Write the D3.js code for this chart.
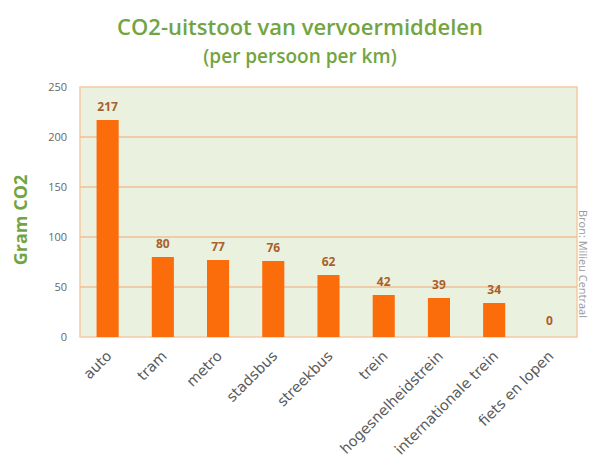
<!DOCTYPE html>
<html>
<head>
<meta charset="utf-8">
<script src="https://cdn.jsdelivr.net/npm/d3@7"></script>
<style>
  body { margin: 0; background: #fff; }
  text { font-family: "Open Sans", "DejaVu Sans", sans-serif; }
</style>
</head>
<body>
<div id="chart"></div>
<script>
const categories = ["auto", "tram", "metro", "stadsbus", "streekbus", "trein",
  "hogesnelheidstrein", "internationale trein", "fiets en lopen"];
const values = [217, 80, 77, 76, 62, 42, 39, 34, 0];
const yTicks = [0, 50, 100, 150, 200, 250];

const width = 590;
const height = 461;
const margin = { top: 87, left: 80, bottom: 124, right: 13 };
const iwidth = width - margin.left - margin.right;
const iheight = height - margin.top - margin.bottom;

const svg = d3.select("#chart").append("svg")
  .attr("width", width).attr("height", height);

svg.append("text")
  .attr("x", 300).attr("y", 35)
  .attr("text-anchor", "middle")
  .style("font-size", "22px").style("font-weight", "600")
  .style("fill", "#72a542")
  .text("CO2-uitstoot van vervoermiddelen");

svg.append("text")
  .attr("x", 300).attr("y", 63)
  .attr("text-anchor", "middle")
  .style("font-size", "19px").style("font-weight", "600")
  .style("fill", "#72a542")
  .text("(per persoon per km)");

const g = svg.append("g")
  .attr("transform", `translate(${margin.left},${margin.top})`);

const y = d3.scaleLinear().domain([0, 250]).range([iheight, 0]);
const x = d3.scaleBand().domain(categories).range([0, iwidth]).paddingInner(0.6).paddingOuter(0.3);

g.append("rect")
  .attr("width", iwidth).attr("height", iheight)
  .style("fill", "#ebf1df")
  .style("stroke", "#f6c9a2").style("stroke-width", 1.5);

g.selectAll(".grid").data(yTicks.slice(1, -1)).enter()
  .append("line")
  .attr("x1", 0).attr("x2", iwidth)
  .attr("y1", d => y(d)).attr("y2", d => y(d))
  .style("stroke", "#efbf95").style("stroke-width", 1.5);

const yAxis = g.append("g")
  .call(d3.axisLeft(y).tickValues(yTicks).tickSize(0).tickPadding(13));
yAxis.select(".domain").remove();
yAxis.selectAll("text").style("font-size", "11px").style("fill", "#666");

g.selectAll(".bar").data(values).enter()
  .append("rect")
  .attr("class", "bar")
  .attr("x", (d, i) => x(categories[i]))
  .attr("y", d => y(d))
  .attr("width", x.bandwidth())
  .attr("height", d => iheight - y(d))
  .style("fill", "#fb6c0a");

g.selectAll(".lbl").data(values).enter()
  .append("text")
  .attr("x", (d, i) => x(categories[i]) + x.bandwidth() / 2)
  .attr("y", d => y(d) - (d === 0 ? 12 : 9))
  .attr("text-anchor", "middle")
  .style("font-size", "12px").style("font-weight", "bold")
  .style("fill", "#a9602c")
  .text(d => d);

const xAxis = g.append("g")
  .attr("transform", `translate(0,${iheight})`)
  .call(d3.axisBottom(x).tickSize(0).tickPadding(0));
xAxis.select(".domain").remove();
xAxis.selectAll("text")
  .attr("text-anchor", "end")
  .attr("dy", 0)
  .attr("transform", "translate(5,20) rotate(-45)")
  .style("font-family", "'DejaVu Sans', sans-serif")
  .style("font-size", "14.5px").style("fill", "#5a5a5a");

svg.append("text")
  .attr("transform", "translate(27,220) rotate(-90)")
  .attr("text-anchor", "middle")
  .style("font-size", "18px").style("font-weight", "bold")
  .style("fill", "#72a542")
  .text("Gram CO2");

svg.append("text")
  .attr("transform", "translate(579,210) rotate(90)")
  .style("font-size", "11px")
  .style("fill", "#999")
  .text("Bron: Milieu Centraal");
</script>
</body>
</html>
